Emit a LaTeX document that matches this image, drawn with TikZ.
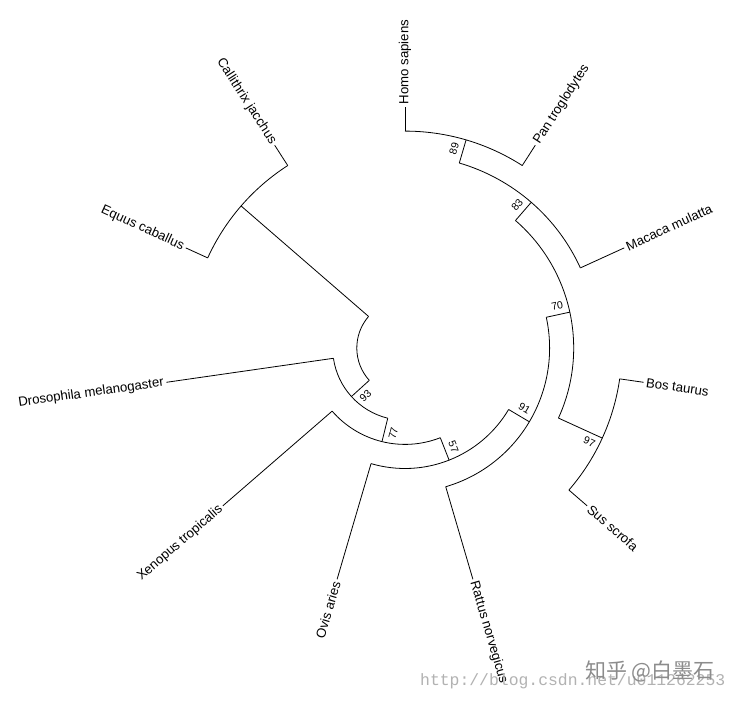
\documentclass[tikz,border=0pt]{standalone}
\usepackage{fontspec}
\setmainfont{Liberation Sans}
\newfontfamily\wmmono{Liberation Mono}
\newfontfamily\wmcjk{Noto Sans CJK SC}
\begin{document}
\begin{tikzpicture}[x=1pt,y=1pt,
  branch/.style={line width=0.8pt, black},
  tiplab/.style={font=\fontsize{13.2}{15}\selectfont, inner sep=2.5pt},
  bootlab/.style={font=\fontsize{10.5}{12}\selectfont, inner sep=0pt}]
\useasboundingbox (-405,-356) rectangle (335,348);
\fill[white] (-405,-356) rectangle (335,348);
% tips
\coordinate (tHomo) at (90:241);        \coordinate (bHomo) at (90:216.9);
\coordinate (tPan)  at (57.2727:241);   \coordinate (bPan)  at (57.2727:216.9);
\coordinate (tMac)  at (24.5455:241);   \coordinate (bMac)  at (24.5455:192.8);
\coordinate (tBos)  at (-8.1818:241);   \coordinate (bBos)  at (-8.1818:216.9);
\coordinate (tSus)  at (-40.9091:241);  \coordinate (bSus)  at (-40.9091:216.9);
\coordinate (tRat)  at (-73.6364:241);  \coordinate (bRat)  at (-73.6364:144.6);
\coordinate (tOvi)  at (-106.3636:241); \coordinate (bOvi)  at (-106.3636:120.5);
\coordinate (tXen)  at (-139.0909:241); \coordinate (bXen)  at (-139.0909:96.4);
\coordinate (tDro)  at (-171.8182:241); \coordinate (bDro)  at (-171.8182:72.3);
\coordinate (tEqu)  at (155.4545:241);  \coordinate (bEqu)  at (155.4545:216.9);
\coordinate (tCal)  at (122.7273:241);  \coordinate (bCal)  at (122.7273:216.9);
% internal nodes
\coordinate (n89) at (73.6364:216.9);   \coordinate (b89) at (73.6364:192.8);
\coordinate (n83) at (49.0909:192.8);   \coordinate (b83) at (49.0909:168.7);
\coordinate (n97) at (-24.5455:216.9);  \coordinate (b97) at (-24.5455:168.7);
\coordinate (n70) at (12.2727:168.7);   \coordinate (b70) at (12.2727:144.6);
\coordinate (n91) at (-30.6818:144.6);  \coordinate (b91) at (-30.6818:120.5);
\coordinate (n57) at (-68.5227:120.5);  \coordinate (b57) at (-68.5227:96.4);
\coordinate (n77) at (-103.8068:96.4);  \coordinate (b77) at (-103.8068:72.3);
\coordinate (n93) at (-137.8125:72.3);  \coordinate (b93) at (-137.8125:48.2);
\coordinate (nEC) at (139.0909:216.9);  \coordinate (bEC) at (139.0909:48.2);
% arcs
\draw[branch] (bPan) arc[start angle=57.2727, end angle=90, radius=216.9];
\draw[branch] (bMac) arc[start angle=24.5455, end angle=73.6364, radius=192.8];
\draw[branch] (bSus) arc[start angle=-40.9091, end angle=-8.1818, radius=216.9];
\draw[branch] (b97) arc[start angle=-24.5455, end angle=49.0909, radius=168.7];
\draw[branch] (bRat) arc[start angle=-73.6364, end angle=12.2727, radius=144.6];
\draw[branch] (bOvi) arc[start angle=-106.3636, end angle=-30.6818, radius=120.5];
\draw[branch] (bXen) arc[start angle=-139.0909, end angle=-68.5227, radius=96.4];
\draw[branch] (bDro) arc[start angle=-171.8182, end angle=-103.8068, radius=72.3];
\draw[branch] (bEC) arc[start angle=139.0909, end angle=222.1875, radius=48.2];
\draw[branch] (bCal) arc[start angle=122.7273, end angle=155.4545, radius=216.9];
% radial branches
\foreach \t in {Homo,Pan,Mac,Bos,Sus,Rat,Ovi,Xen,Dro,Equ,Cal}{\draw[branch] (b\t) -- (t\t);}
\foreach \t in {89,83,97,70,91,57,77,93,EC}{\draw[branch] (b\t) -- (n\t);}
% tip labels
\node[tiplab, anchor=west, rotate=90] (lHomo) at (tHomo) {Homo sapiens};
\node[tiplab, anchor=west, rotate=57.2727] (lPan) at (tPan) {Pan troglodytes};
\node[tiplab, anchor=west, rotate=24.5455] (lMac) at (tMac) {Macaca mulatta};
\node[tiplab, anchor=west, rotate=-8.1818] (lBos) at (tBos) {Bos taurus};
\node[tiplab, anchor=west, rotate=-40.9091] (lSus) at (tSus) {Sus scrofa};
\node[tiplab, anchor=west, rotate=-73.6364] (lRat) at (tRat) {Rattus norvegicus};
\node[tiplab, anchor=east, rotate=73.6364] (lOvi) at (tOvi) {Ovis aries};
\node[tiplab, anchor=east, rotate=40.9091] (lXen) at (tXen) {Xenopus tropicalis};
\node[tiplab, anchor=east, rotate=8.1818] (lDro) at (tDro) {Drosophila melanogaster};
\node[tiplab, anchor=east, rotate=-24.5455] (lEqu) at (tEqu) {Equus caballus};
\node[tiplab, anchor=east, rotate=-57.2727] (lCal) at (tCal) {Callithrix jacchus};
% bootstrap labels
\node[bootlab, rotate=73.6364] (s89) at (76.15:205) {89};
\node[bootlab, rotate=49.0909] (s83) at (51.92:182) {83};
\node[bootlab, rotate=12.2727] (s70) at (15.53:158) {70};
\node[bootlab, rotate=-30.6818] (s91) at (-26.83:134) {91};
\node[bootlab, rotate=-68.5227] (s57) at (-63.83:110) {57};
\node[bootlab, rotate=76.1932] (s77) at (-97.81:86) {77};
\node[bootlab, rotate=42.1875] (s93) at (-129.49:62) {93};
\node[bootlab, rotate=-24.5455] (s97) at (-27.04:207) {97};
% watermarks
\node[anchor=west, inner sep=0pt, text=black!30, font=\wmmono\fontsize{16.4}{18}\selectfont] (wm1) at (15,-333.5) {http://blog.csdn.net/u011262253};
\node[anchor=west, inner sep=0pt, text=black!45, font=\wmcjk\fontsize{21}{24}\selectfont] (wm2) at (180,-323) {知乎 @白墨石};
\end{tikzpicture}
\end{document}
